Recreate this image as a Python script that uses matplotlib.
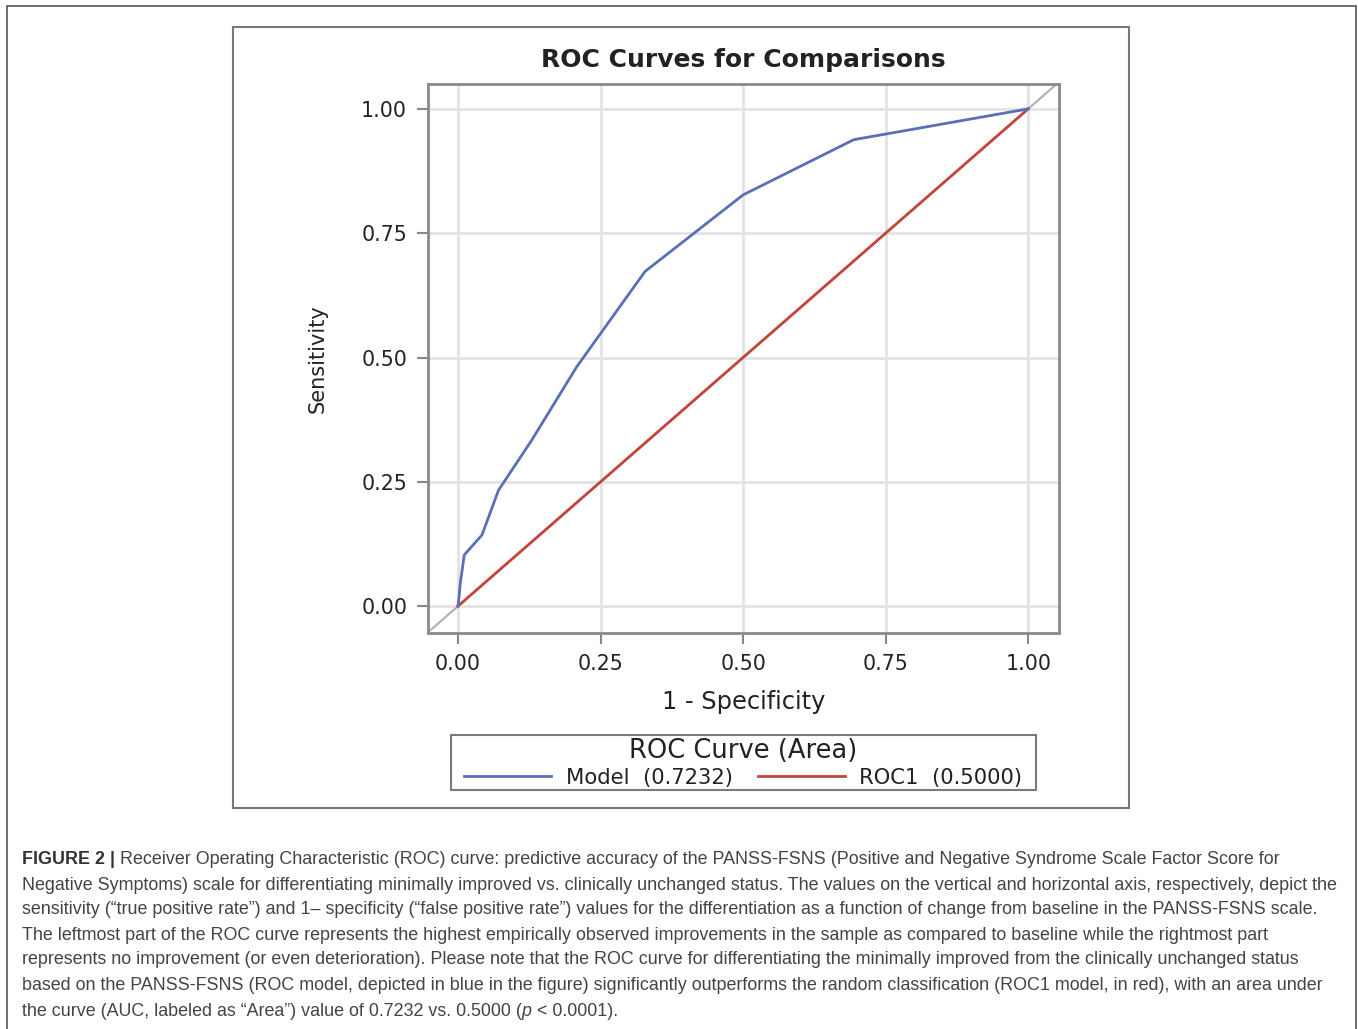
import matplotlib
matplotlib.use("Agg")
import matplotlib.pyplot as plt
from matplotlib.patches import Rectangle

# Data
model_fpr = [0.0, 0.002, 0.004, 0.011, 0.042, 0.071, 0.13, 0.208, 0.328, 0.50, 0.694, 1.0]
model_tpr = [0.0, 0.02, 0.046, 0.103, 0.143, 0.233, 0.335, 0.481, 0.673, 0.827, 0.938, 1.0]
roc1_fpr = [0.0, 1.0]
roc1_tpr = [0.0, 1.0]
diag = [-0.1, 1.1]
ticks = [0.0, 0.25, 0.50, 0.75, 1.00]
tick_labels = ["0.00", "0.25", "0.50", "0.75", "1.00"]
model_label = "Model  (0.7232)"
roc1_label = "ROC1  (0.5000)"

caption_lines = [
    "Receiver Operating Characteristic (ROC) curve: predictive accuracy of the PANSS-FSNS (Positive and Negative Syndrome Scale Factor Score for",
    "Negative Symptoms) scale for differentiating minimally improved vs. clinically unchanged status. The values on the vertical and horizontal axis, respectively, depict the",
    "sensitivity (\u201ctrue positive rate\u201d) and 1\u2013 specificity (\u201cfalse positive rate\u201d) values for the differentiation as a function of change from baseline in the PANSS-FSNS scale.",
    "The leftmost part of the ROC curve represents the highest empirically observed improvements in the sample as compared to baseline while the rightmost part",
    "represents no improvement (or even deterioration). Please note that the ROC curve for differentiating the minimally improved from the clinically unchanged status",
    "based on the PANSS-FSNS (ROC model, depicted in blue in the figure) significantly outperforms the random classification (ROC1 model, in red), with an area under",
    "the curve (AUC, labeled as \u201cArea\u201d) value of 0.7232 vs. 0.5000 (",
]

W, H = 1358, 1029
BLUE = "#5a6fb4"
RED = "#c4453a"
CHART_FONT = "DejaVu Sans"
CAP_FONT = "Liberation Sans"


def fx(px):
    return px / W


def fy(py):
    return 1 - py / H


fig = plt.figure(figsize=(W / 100, H / 100), dpi=100)

# outer frame, inner chart frame, legend box
fig.patches.append(Rectangle((fx(7), fy(1040)), fx(1356) - fx(7), fy(6) - fy(1040),
                             transform=fig.transFigure, fill=False, edgecolor="#555555", linewidth=1.2))
fig.patches.append(Rectangle((fx(233), fy(808)), fx(1129) - fx(233), fy(27) - fy(808),
                             transform=fig.transFigure, fill=False, edgecolor="#7a7a7a", linewidth=1.5))
fig.patches.append(Rectangle((fx(451), fy(790)), fx(1036) - fx(451), fy(735) - fy(790),
                             transform=fig.transFigure, fill=False, edgecolor="#7a7a7a", linewidth=1.5))

ax = fig.add_axes([fx(428), fy(633), fx(1059) - fx(428), fy(84) - fy(633)])
ax.set_xlim(-0.0526, 1.054)
ax.set_ylim(-0.054, 1.050)

ax.plot(diag, diag, color="#b0b0b0", linewidth=1.5, zorder=1)
ax.plot(roc1_fpr, roc1_tpr, color=RED, linewidth=2, zorder=3, label=roc1_label)
ax.plot(model_fpr, model_tpr, color=BLUE, linewidth=2, zorder=4, label=model_label)

ax.set_xticks(ticks)
ax.set_yticks(ticks)
ax.set_xticklabels(tick_labels, fontsize=14.8, family=CHART_FONT, color="#222222")
ax.set_yticklabels(tick_labels, fontsize=14.8, family=CHART_FONT, color="#222222")
ax.tick_params(direction="out", length=8, width=1.5, color="#888888", pad=7)
ax.grid(True, color="#e3e3e3", linewidth=2)
ax.set_axisbelow(True)
for s in ax.spines.values():
    s.set_edgecolor("#8a8a8a")
    s.set_linewidth(2)

ax.set_xlabel("1 - Specificity", fontsize=17.4, family=CHART_FONT, color="#222222", labelpad=12)
ax.set_ylabel("Sensitivity", fontsize=15, family=CHART_FONT, color="#222222", labelpad=24)
ax.set_title("ROC Curves for Comparisons", fontsize=18, fontweight="bold", family=CHART_FONT,
             color="#222222", pad=12)

handles, labels = ax.get_legend_handles_labels()
leg = fig.legend(handles[::-1], labels[::-1], ncol=2, loc="center",
                 bbox_to_anchor=((fx(451) + fx(1036)) / 2, (fy(736) + fy(790)) / 2),
                 title="ROC Curve (Area)", frameon=False,
                 handlelength=4.1, columnspacing=1.2, handletextpad=0.7,
                 borderpad=0.1, labelspacing=0.15,
                 prop={"family": CHART_FONT, "size": 15.2},
                 title_fontproperties={"family": CHART_FONT, "size": 18.5})
leg.get_title().set_color("#222222")
for t in leg.get_texts():
    t.set_color("#222222")

# caption
cap_size = 12.85
line_y = [859, 885, 910, 935, 960, 986, 1011]
renderer = fig.canvas.get_renderer()
head = fig.text(fx(22), fy(line_y[0]), "FIGURE 2 |", fontsize=cap_size, fontweight="bold",
                family=CAP_FONT, color="#333333", va="center")
hb = head.get_window_extent(renderer)
fig.text((hb.x1 + 5) / W, fy(line_y[0]), caption_lines[0], fontsize=cap_size,
         family=CAP_FONT, color="#444444", va="center")
for i in range(1, len(caption_lines)):
    t = fig.text(fx(22), fy(line_y[i]), caption_lines[i], fontsize=cap_size,
                 family=CAP_FONT, color="#444444", va="center")
tb = t.get_window_extent(renderer)
p = fig.text(tb.x1 / W, fy(line_y[-1]), "p", fontsize=cap_size, style="italic",
             family=CAP_FONT, color="#444444", va="center")
pb = p.get_window_extent(renderer)
fig.text(pb.x1 / W, fy(line_y[-1]), " < 0.0001).", fontsize=cap_size,
         family=CAP_FONT, color="#444444", va="center")

fig.savefig("out.png", dpi=100)
